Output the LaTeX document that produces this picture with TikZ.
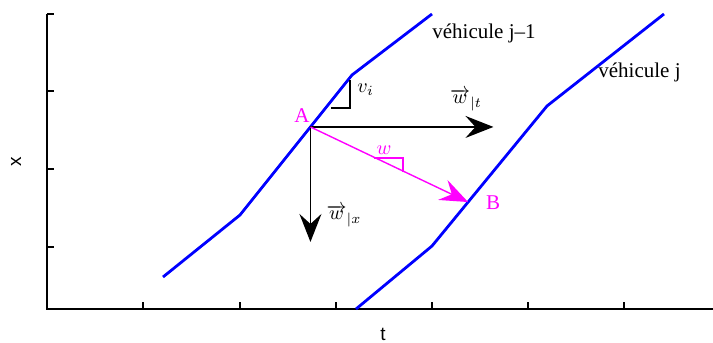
\documentclass[tikz,border=0pt]{standalone}
\usepackage{fontspec}
\newfontfamily\tmsfont{Liberation Serif}
\newfontfamily\hlvfont{Liberation Sans}
\usetikzlibrary{arrows.meta, calc}
\definecolor{mag}{RGB}{255,0,255}

\begin{document}
\begin{tikzpicture}[
    x=0.5pt, y=-0.5pt,
    every node/.style={inner sep=0pt},
    axisline/.style={line width=0.6pt},
    tick/.style={line width=0.6pt},
    axlbl/.style={font=\hlvfont\fontsize{9.5}{11}\selectfont},
    traj/.style={blue, line width=1.4pt},
    vlbl/.style={font=\tmsfont\fontsize{10.5}{12}\selectfont, anchor=west},
    proj/.style={-{Stealth[length=14pt, width=11pt, inset=5pt]}, line width=0.7pt},
    wave/.style={mag, -{Stealth[length=14pt, width=11pt, inset=5pt]}, line width=0.7pt},
    pt/.style={font=\tmsfont\fontsize{10.5}{12}\selectfont, text=mag},
  ]
    \useasboundingbox (0,0) rectangle (713,343);

    % axes
    \draw[axisline] (47,14) -- (47,309) -- (713,309);
    \foreach \y in {14,91,169,247}
      \draw[tick] (47,\y) -- ++(7,0);
    \foreach \x in {47,143,240,336,432,528,624}
      \draw[tick] (\x,309) -- ++(0,-7);
    \node[axlbl, rotate=90] (xlab) at (16,162) {x};
    \node[axlbl] (tlab) at (383,334) {t};

    % trajectories
    \draw[traj] (163,277) -- (240,215) -- coordinate[pos=0.629] (A) (352,75) -- (432,14);
    \draw[traj] (356,309) -- (432,246) -- coordinate[pos=0.314] (B) (547,106) -- (664,14);
    \node[vlbl] (vjm) at (432,33) {véhicule j–1};
    \node[vlbl] (vj) at (598,72) {véhicule j};

    % speed triangles
    \draw[line width=0.6pt] (331,108) -| (350,80);
    \node[anchor=west] (vi) at (357,90) {$v_i$};
    \draw[mag, line width=0.6pt] (374,158) -| (403,172);
    \node[text=mag] (w) at (384,150) {$w$};

    % projections
    \coordinate (wt) at ($(A)+(183,0)$);
    \coordinate (wx) at ($(A)+(0,115)$);
    \draw[proj] (A) -- (wt);
    \draw[proj] (A) -- (wx);
    \draw[wave] (A) -- (B);
    \node (wtlab) at (466,100) {$\overrightarrow{w}_{|t}$};
    \node (wxlab) at (344,216) {$\overrightarrow{w}_{|x}$};
    \node[pt] (Alab) at (302,116) {A};
    \node[pt] (Blab) at (493,203) {B};
\end{tikzpicture}
\end{document}
